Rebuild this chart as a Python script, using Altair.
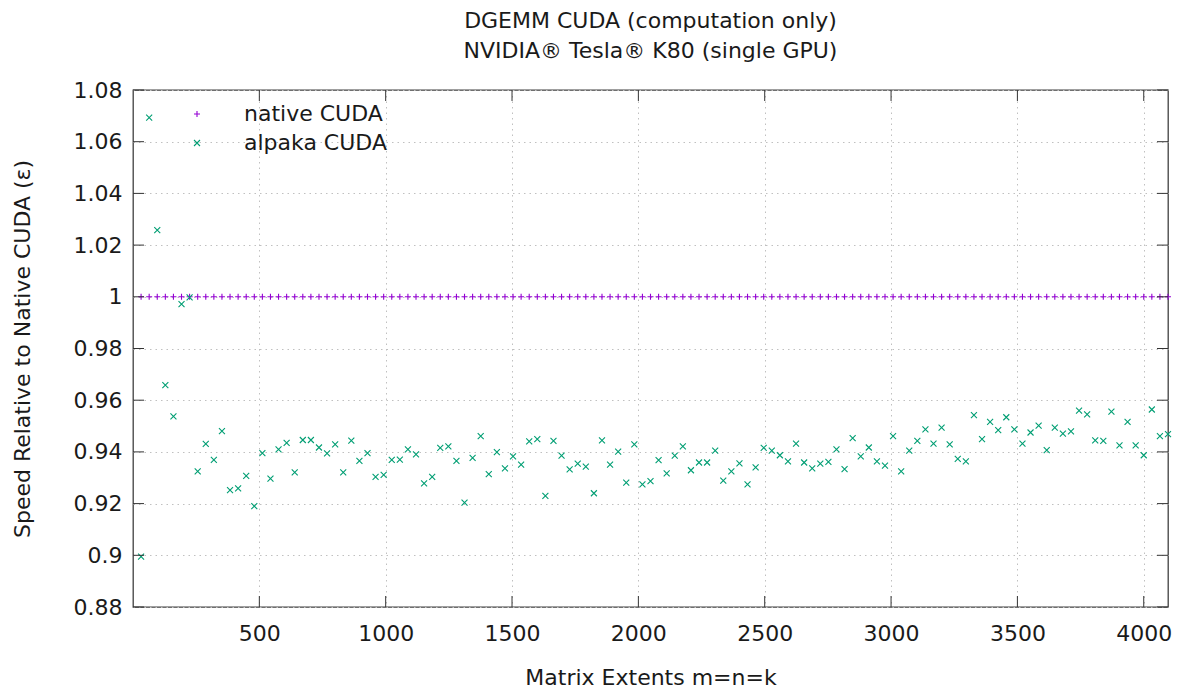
import altair as alt
import pandas as pd

# ---- data ----
extents = [32 * k for k in range(1, 129)]  # matrix extents m=n=k: 32, 64, ..., 4096
native = [1.0] * 128
alpaka = [
    0.8995, 1.0693, 1.0258, 0.9658, 0.9537, 0.9972, 0.9998, 0.9325, 0.9431, 0.9369,
    0.9480, 0.9252, 0.9259, 0.9307, 0.9190, 0.9395, 0.9297, 0.9410, 0.9435, 0.9321,
    0.9446, 0.9446, 0.9417, 0.9394, 0.9429, 0.9321, 0.9444, 0.9365, 0.9395, 0.9303,
    0.9311, 0.9369, 0.9370, 0.9410, 0.9390, 0.9278, 0.9303, 0.9416, 0.9421, 0.9365,
    0.9204, 0.9377, 0.9461, 0.9314, 0.9399, 0.9336, 0.9383, 0.9351, 0.9441, 0.9449,
    0.9230, 0.9443, 0.9386, 0.9332, 0.9355, 0.9343, 0.9240, 0.9445, 0.9351, 0.9401,
    0.9281, 0.9429, 0.9274, 0.9287, 0.9368, 0.9317, 0.9386, 0.9421, 0.9329, 0.9359,
    0.9359, 0.9405, 0.9289, 0.9325, 0.9356, 0.9274, 0.9340, 0.9416, 0.9405, 0.9387,
    0.9363, 0.9432, 0.9359, 0.9336, 0.9355, 0.9361, 0.9410, 0.9333, 0.9453, 0.9383,
    0.9417, 0.9363, 0.9347, 0.9461, 0.9325, 0.9405, 0.9443, 0.9487, 0.9432, 0.9494,
    0.9429, 0.9373, 0.9363, 0.9542, 0.9449, 0.9516, 0.9484, 0.9534, 0.9487, 0.9432,
    0.9475, 0.9502, 0.9407, 0.9494, 0.9471, 0.9479, 0.9560, 0.9545, 0.9445, 0.9443,
    0.9556, 0.9425, 0.9516, 0.9425, 0.9387, 0.9564, 0.9461, 0.9469,
]
series_names = ["native CUDA", "alpaka CUDA"]
series_colors = ["#9400d3", "#009e73"]
x_ticks = [500, 1000, 1500, 2000, 2500, 3000, 3500, 4000]
y_ticks = [0.88, 0.90, 0.92, 0.94, 0.96, 0.98, 1.00, 1.02, 1.04, 1.06, 1.08]
title_lines = ["DGEMM CUDA (computation only)", "NVIDIA® Tesla® K80 (single GPU)"]
x_title = "Matrix Extents m=n=k"
y_title = "Speed Relative to Native CUDA (ε)"

# ---- tables ----
df = pd.concat([
    pd.DataFrame({"x": extents, "speed": native, "series": series_names[0], "ord": 0}),
    pd.DataFrame({"x": extents, "speed": alpaka, "series": series_names[1], "ord": 1}),
], ignore_index=True)
xt = pd.DataFrame({"xt": x_ticks})
yt = pd.DataFrame({"yt": y_ticks})

W, H = 1035, 517
FONT = "DejaVu Sans"
FS = 22
TXT = "#1a1a1a"
TICK = "#333333"
TL = 11

xscale = alt.Scale(domain=[0, 4096], nice=False, zero=False)
yscale = alt.Scale(domain=[0.88, 1.08], nice=False, zero=False)
xaxis = alt.Axis(values=x_ticks, format="d", title=x_title, grid=True, ticks=False,
                 domain=False, labelPadding=16, labelFlush=False,
                 titleY=70, titleBaseline="middle")
yaxis = alt.Axis(values=y_ticks, format="~g", title=y_title, grid=True, ticks=False,
                 domain=False, labelPadding=11, labelFlush=False,
                 titleX=-111, titleY=H / 2,
                 titleAngle=270, titleBaseline="middle", titleAlign="center")

legend = alt.Legend(title=None, orient="none", legendX=53, legendY=13,
                    labelFontSize=FS, labelFont=FONT, labelColor=TXT,
                    labelOffset=36, rowPadding=7, padding=0,
                    symbolSize=36, symbolStrokeWidth=1.1)

points = alt.Chart(df).mark_point(filled=False, strokeWidth=1.1, opacity=1).encode(
    x=alt.X("x:Q", scale=xscale, axis=xaxis),
    y=alt.Y("speed:Q", scale=yscale, axis=yaxis),
    color=alt.Color("series:N", scale=alt.Scale(domain=series_names, range=series_colors),
                    legend=legend),
    shape=alt.Shape("series:N", scale=alt.Scale(
        domain=series_names,
        range=["M-1,0L1,0M0,-1L0,1", "M-1,-1L1,1M-1,1L1,-1"]), legend=legend),
    size=alt.value(36),
    order=alt.Order("ord:Q"),
)

ytick_left = alt.Chart(yt).mark_rule(color=TICK, strokeWidth=1).encode(
    y=alt.Y("yt:Q", scale=yscale, axis=yaxis), x=alt.value(0), x2=alt.value(TL))
ytick_right = alt.Chart(yt).mark_rule(color=TICK, strokeWidth=1).encode(
    y=alt.Y("yt:Q", scale=yscale, axis=yaxis), x=alt.value(W - TL), x2=alt.value(W))
xtick_bottom = alt.Chart(xt).mark_rule(color=TICK, strokeWidth=1).encode(
    x=alt.X("xt:Q", scale=xscale, axis=xaxis), y=alt.value(H), y2=alt.value(H - TL))
xtick_top = alt.Chart(xt).mark_rule(color=TICK, strokeWidth=1).encode(
    x=alt.X("xt:Q", scale=xscale, axis=xaxis), y=alt.value(0), y2=alt.value(TL))

chart = alt.layer(points, ytick_left, ytick_right, xtick_bottom, xtick_top).properties(
    width=W, height=H,
    autosize=alt.AutoSizeParams(type="none"),
    padding={"left": 133, "top": 90, "right": 11, "bottom": 82},
    title=alt.TitleParams(text=title_lines, font=FONT, fontSize=FS, fontWeight="normal",
                          color=TXT, anchor="middle", lineHeight=30, offset=16),
).configure(background="white").configure_view(
    stroke="#404040", strokeWidth=1.3
).configure_axis(
    labelFont=FONT, labelFontSize=FS, labelColor=TXT,
    titleFont=FONT, titleFontSize=FS, titleColor=TXT, titleFontWeight="normal",
    gridColor="#c0c0c0", gridDash=[1.5, 4], gridWidth=1,
)

chart.save("out.html", embed_options={"renderer": "svg", "actions": False})
